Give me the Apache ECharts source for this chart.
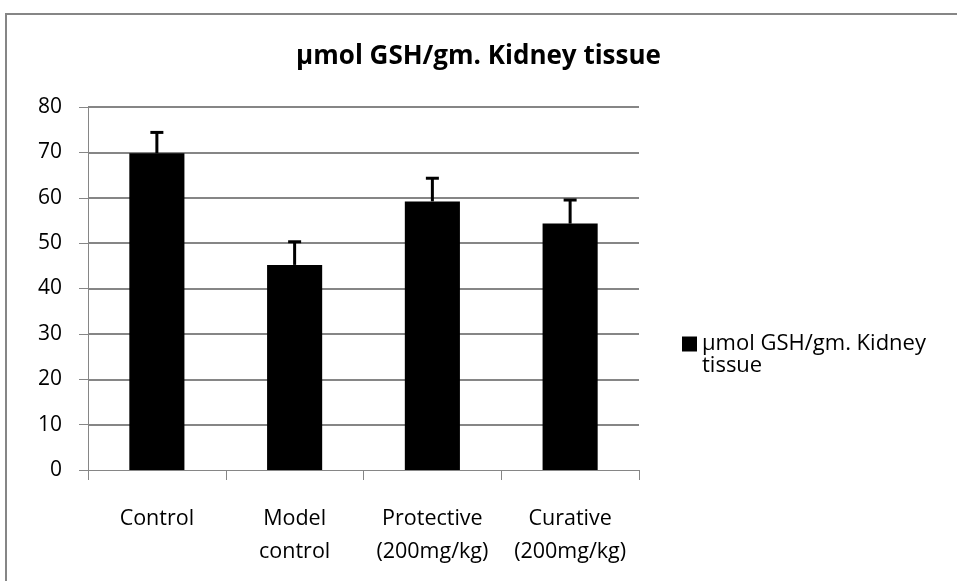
<!DOCTYPE html>
<html>
<head>
<meta charset="utf-8">
<script src="https://cdn.jsdelivr.net/npm/echarts@6/dist/echarts.min.js"></script>
<style>
html,body{margin:0;padding:0;background:#fff;}
#chart{width:957px;height:581px;}
</style>
</head>
<body>
<div id="chart"></div>
<script>
var titleText = 'µmol GSH/gm. Kidney tissue';
var seriesName = 'µmol GSH/gm. Kidney tissue';
var categories = ['Control', 'Model\ncontrol', 'Protective\n(200mg/kg)', 'Curative\n(200mg/kg)'];
var meanValues = [69.8, 45.2, 59.2, 54.3];
var errorValues = [4.6, 5.1, 5.1, 5.2];
var yTicks = [0, 10, 20, 30, 40, 50, 60, 70, 80];

var FONT = 'Open Sans';
var GRAY = '#868686';

var chart = echarts.init(document.getElementById('chart'));
var errData = meanValues.map(function (v, i) { return [i, v, v + errorValues[i]]; });

chart.setOption({
  animation: false,
  backgroundColor: '#fff',
  title: {
    text: titleText,
    left: 'center',
    top: 44,
    padding: 0,
    textStyle: { fontFamily: FONT, fontSize: 26, fontWeight: 'bold', color: '#000' }
  },
  legend: {
    data: [{ name: seriesName, icon: 'rect' }],
    left: 682,
    top: 311,
    padding: 0,
    itemWidth: 15,
    itemHeight: 15,
    formatter: function () { return '{e|}\n{t|µmol GSH/gm. Kidney}\n{t|tissue}'; },
    textStyle: {
      fontFamily: FONT, fontSize: 22, color: '#000', lineHeight: 22,
      rich: {
        e: { fontFamily: FONT, fontSize: 22, lineHeight: 22 },
        t: { fontFamily: FONT, fontSize: 22, lineHeight: 22, color: '#000' }
      }
    }
  },
  grid: { left: 88, right: 318, top: 107, bottom: 111, containLabel: false },
  xAxis: {
    type: 'category',
    data: categories,
    boundaryGap: true,
    axisLine: { show: true, lineStyle: { color: GRAY, width: 1 } },
    axisTick: { show: true, length: 10, alignWithLabel: false, lineStyle: { color: GRAY } },
    axisLabel: { interval: 0, fontFamily: FONT, fontSize: 21.5, color: '#000', lineHeight: 33, margin: 32, verticalAlign: 'top' }
  },
  yAxis: {
    type: 'value',
    min: yTicks[0],
    max: yTicks[yTicks.length - 1],
    interval: 10,
    axisLine: { show: true, lineStyle: { color: GRAY, width: 1 } },
    axisTick: { show: true, length: 9, lineStyle: { color: GRAY } },
    axisLabel: { fontFamily: FONT, fontSize: 21, color: '#000', margin: 26 },
    splitLine: { show: true, showMinLine: false, lineStyle: { color: GRAY, width: 2 } }
  },
  graphic: [{
    type: 'polyline',
    shape: { points: [[6, 581], [6, 14], [957, 14]] },
    style: { stroke: GRAY, lineWidth: 2, fill: null },
    silent: true
  }],
  series: [{
    name: seriesName,
    type: 'bar',
    data: meanValues,
    barWidth: '40%',
    itemStyle: { color: '#000' },
    z: 2
  }, {
    name: 'err',
    type: 'custom',
    data: errData,
    z: 3,
    renderItem: function (params, api) {
      var i = api.value(0);
      var p0 = api.coord([i, api.value(1)]);
      var p1 = api.coord([i, api.value(2)]);
      var hw = 6.5;
      return {
        type: 'group',
        children: [{
          type: 'line',
          shape: { x1: p0[0], y1: p0[1], x2: p1[0], y2: p1[1] },
          style: { stroke: '#000', lineWidth: 3 }
        }, {
          type: 'line',
          shape: { x1: p1[0] - hw, y1: p1[1], x2: p1[0] + hw, y2: p1[1] },
          style: { stroke: '#000', lineWidth: 3 }
        }]
      };
    }
  }]
});
</script>
</body>
</html>
